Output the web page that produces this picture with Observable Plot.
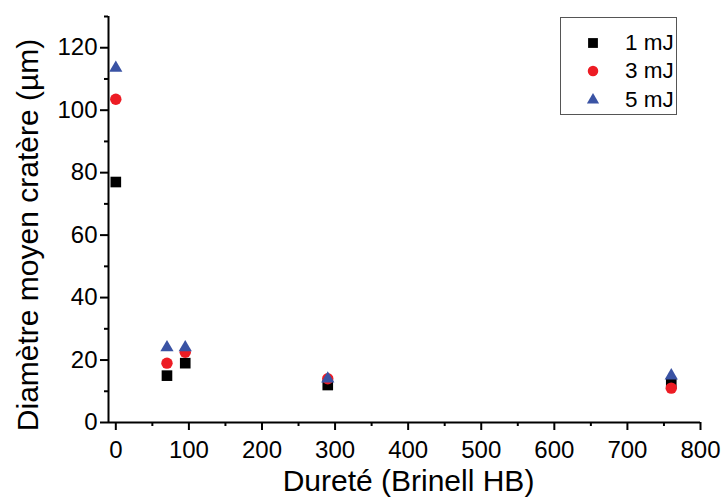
<!DOCTYPE html>
<html><head><meta charset="utf-8">
<script src="https://cdn.jsdelivr.net/npm/d3@7"></script>
<script src="https://cdn.jsdelivr.net/npm/@observablehq/plot@0.6"></script>
<style>
body{margin:0;background:#fff;font-family:"Liberation Sans",Arial,sans-serif;}
#wrap{position:relative;width:725px;height:504px;}
#legend{position:absolute;left:560px;top:17px;width:117px;height:98px;border:1px solid #555;background:#fff;box-sizing:border-box;}
.item{position:absolute;left:0;height:28px;display:flex;align-items:center;font-size:22.5px;color:#000;}
.item svg{margin-left:22px;margin-right:22px;}
</style></head>
<body><div id="wrap"><div id="chart"></div><div id="legend"></div></div>
<script>
const hardness = [0, 70, 95, 290, 760];
const series = ["1 mJ", "3 mJ", "5 mJ"];
const d1mJ = [77, 15, 19, 12, 12.5];
const d3mJ = [103.5, 19, 22.5, 14, 11];
const d5mJ = [113.5, 24, 24, 14, 15];
const colors = ["#000000", "#ed1c24", "#3a53a4"];
const symbols = ["square", "circle", "triangle"];
const radii = [6.0, 5.7, 4.9];
const xTicks = [0, 100, 200, 300, 400, 500, 600, 700, 800];
const xMinor = [50, 150, 250, 350, 450, 550, 650, 750];
const yTicks = [0, 20, 40, 60, 80, 100, 120];
const yMinor = [10, 30, 50, 70, 90, 110, 130];
const xTitle = "Dureté (Brinell HB)";
const yTitle = "Diamètre moyen cratère (µm)";

const values = [d1mJ, d3mJ, d5mJ];
const data = series.flatMap((s, i) => hardness.map((h, j) => ({s, x: h, y: values[i][j]})));

const marks = [
  Plot.axisX({ticks: xTicks, tickSize: 8, tickPadding: 10, strokeWidth: 2, label: null}),
  Plot.axisX({ticks: xMinor, tickSize: 4, strokeWidth: 2, text: null, label: null}),
  Plot.axisY({ticks: yTicks, tickSize: 8, tickPadding: 3, strokeWidth: 2, label: null}),
  Plot.axisY({ticks: yMinor, tickSize: 4, strokeWidth: 2, text: null, label: null}),
  Plot.ruleY([0], {strokeWidth: 2}),
  Plot.ruleX([-10], {strokeWidth: 2}),
];
series.forEach((s, i) => {
  marks.push(Plot.dot(data.filter(d => d.s === s), {x: "x", y: "y", symbol: () => symbols[i], r: radii[i], fill: colors[i], stroke: "none"}));
});
marks.push(Plot.text([xTitle], {frameAnchor: "bottom", textAnchor: "middle", dx: 4, dy: 68.5, fontSize: 30}));
marks.push(Plot.text([yTitle], {frameAnchor: "left", textAnchor: "middle", rotate: -90, dx: -80.5, dy: 15.5, fontSize: 30}));

const chart = Plot.plot({
  width: 725, height: 504,
  marginLeft: 108, marginRight: 25, marginTop: 16, marginBottom: 82,
  x: {domain: [-10, 800], axis: null},
  y: {domain: [0, 130], axis: null},
  symbol: {domain: symbols, range: symbols},
  style: {fontFamily: "Liberation Sans, Arial, sans-serif", fontSize: "24px", color: "#000", background: "#fff", overflow: "visible"},
  marks
});
document.getElementById("chart").appendChild(chart);

const legend = document.getElementById("legend");
series.forEach((s, i) => {
  const item = document.createElement("div");
  item.className = "item";
  item.style.top = (11 + i * 28.3) + "px";
  const sym = d3.symbol().type([d3.symbolSquare, d3.symbolCircle, d3.symbolTriangle][i]).size(Math.PI * radii[i] * radii[i] * 0.85);
  item.innerHTML = `<svg width="20" height="20" viewBox="-10 -10 20 20"><path d="${sym()}" fill="${colors[i]}"></path></svg><span>${s}</span>`;
  legend.appendChild(item);
});
</script></body></html>
